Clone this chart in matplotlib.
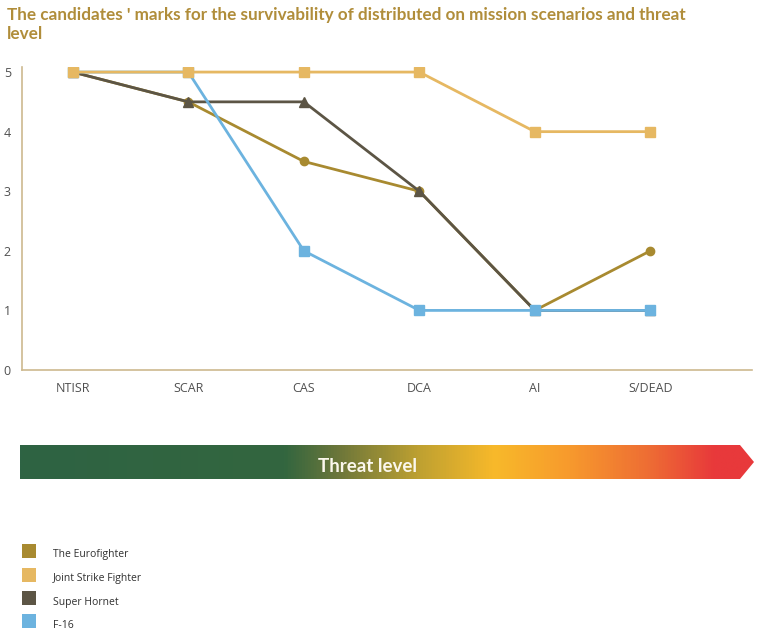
import numpy as np
import matplotlib
matplotlib.use("Agg")
import matplotlib.pyplot as plt
from matplotlib.patches import Polygon, Rectangle
from matplotlib.colors import LinearSegmentedColormap

categories = ["NTISR", "SCAR", "CAS", "DCA", "AI", "S/DEAD"]
series_names = ["The Eurofighter", "Joint Strike Fighter", "Super Hornet", "F-16"]
eurofighter = [5, 4.5, 3.5, 3, 1, 2]
jsf = [5, 5, 5, 5, 4, 4]
super_hornet = [5, 4.5, 4.5, 3, 1, 1]
f16 = [5, 5, 2, 1, 1, 1]
yticks = [0, 1, 2, 3, 4, 5]

colors = {"The Eurofighter": "#A88A30", "Joint Strike Fighter": "#E6B862",
          "Super Hornet": "#5C5545", "F-16": "#6CB3DF"}
markers = {"The Eurofighter": "o", "Joint Strike Fighter": "s",
           "Super Hornet": "^", "F-16": "s"}
values = {"The Eurofighter": eurofighter, "Joint Strike Fighter": jsf,
          "Super Hornet": super_hornet, "F-16": f16}

W, H = 766, 637
fig = plt.figure(figsize=(W / 100, H / 100), dpi=100)
fig.patch.set_facecolor("white")

def fx(px):
    return px / W

def fy(py):
    return 1 - py / H

# Title
fig.text(fx(7), fy(7), "The candidates ' marks for the survivability of distributed on mission scenarios and threat\nlevel",
         ha="left", va="top", fontsize=12.3, fontweight="bold", color="#B08D3A",
         family="Lato", linespacing=1.25)

# Main axes
ax = fig.add_axes([fx(22), fy(370), fx(752) - fx(22), fy(67) - fy(370)])
x = np.arange(len(categories))
order = ["The Eurofighter", "Super Hornet", "F-16", "Joint Strike Fighter"]
for z, name in enumerate(order):
    ax.plot(x, values[name], color=colors[name], marker=markers[name], lw=2.0,
            markersize=6.5 if markers[name] != "o" else 6, zorder=3 + z)
ax.set_xlim(-0.44, 5.88)
ax.set_ylim(0, 5.085)
ax.set_xticks(x)
ax.set_xticklabels(categories)
ax.set_yticks(yticks)
for s in ["top", "right"]:
    ax.spines[s].set_visible(False)
for s in ["left", "bottom"]:
    ax.spines[s].set_color("#CDB98F")
    ax.spines[s].set_linewidth(1.2)
ax.tick_params(axis="both", length=0, labelsize=9, labelcolor="#505050")
ax.tick_params(axis="x", pad=9)
ax.tick_params(axis="y", pad=8)
for lab in ax.get_xticklabels() + ax.get_yticklabels():
    lab.set_family("Open Sans")

# Threat level arrow
oax = fig.add_axes([0, 0, 1, 1], zorder=-1)
oax.axis("off")
stops = [(20, "#2E6343"), (285, "#33663F"), (340, "#6E773A"), (420, "#BFA131"),
         (495, "#F8B92A"), (570, "#F79A2D"), (650, "#EE6D34"), (715, "#E8393B"), (757, "#E8393B")]
pos = [(p - 20) / (757 - 20) for p, _ in stops]
cmap = LinearSegmentedColormap.from_list("threat", list(zip(pos, [c for _, c in stops])))
grad = np.linspace(0, 1, 512).reshape(1, -1)
im = oax.imshow(grad, cmap=cmap, extent=(20, 757, 479, 445), aspect="auto")
poly = Polygon([(20, 445), (740, 445), (754, 462), (740, 479), (20, 479)], closed=True,
               facecolor="none", edgecolor="none", transform=oax.transData)
oax.add_patch(poly)
im.set_clip_path(poly)
oax.set_xlim(0, W)
oax.set_ylim(H, 0)
fig.text(fx(367), fy(466), "Threat level", ha="center", va="center", fontsize=13.5,
         fontweight="bold", color="#FBF7EC", family="Lato")

# Legend
leg_y = [551, 575, 598, 621]
for name, yy in zip(series_names, leg_y):
    fig.patches.append(Rectangle((fx(22), fy(yy + 7)), fx(14), fy(0) - fy(14),
                                 transform=fig.transFigure, facecolor=colors[name],
                                 edgecolor="none"))
    fig.text(fx(53), fy(yy + 4), name, ha="left", va="center", fontsize=7.5,
             color="#303030", family="Open Sans")

fig.savefig("out.png", dpi=100, facecolor="white")
